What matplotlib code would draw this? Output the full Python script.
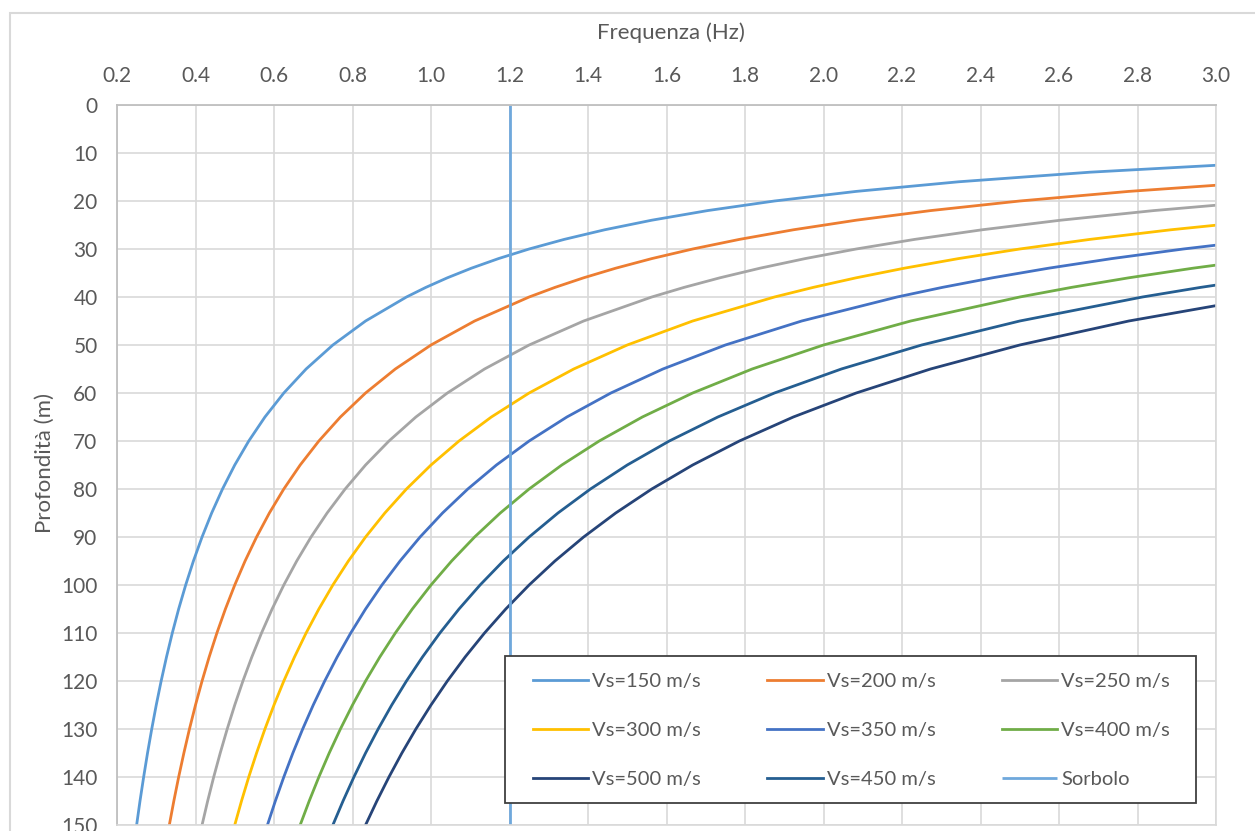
import matplotlib
matplotlib.use("Agg")
import matplotlib.pyplot as plt
from matplotlib.patches import Rectangle

# Depth (m) sampled, and frequency (Hz) read for each Vs curve (each list runs until the curve leaves the 3 Hz edge)
depth = [150, 145, 140, 135, 130, 125, 120, 115, 110, 105, 100, 95, 90, 85, 80, 75, 70, 65, 60, 55, 50, 45, 40,
         38, 36, 34, 32, 30, 28, 26, 24, 22, 20, 18, 16, 14, 12, 10]

f_150 = [0.25, 0.2586, 0.2679, 0.2778, 0.2885, 0.3, 0.3125, 0.3261, 0.3409, 0.3571, 0.375, 0.3947, 0.4167,
         0.4412, 0.4688, 0.5, 0.5357, 0.5769, 0.625, 0.6818, 0.75, 0.8333, 0.9375, 0.9868, 1.0417, 1.1029,
         1.1719, 1.25, 1.3393, 1.4423, 1.5625, 1.7045, 1.875, 2.0833, 2.3438, 2.6786, 3.125]
f_200 = [0.3333, 0.3448, 0.3571, 0.3704, 0.3846, 0.4, 0.4167, 0.4348, 0.4545, 0.4762, 0.5, 0.5263, 0.5556,
         0.5882, 0.625, 0.6667, 0.7143, 0.7692, 0.8333, 0.9091, 1.0, 1.1111, 1.25, 1.3158, 1.3889, 1.4706,
         1.5625, 1.6667, 1.7857, 1.9231, 2.0833, 2.2727, 2.5, 2.7778, 3.125]
f_250 = [0.4167, 0.4310, 0.4464, 0.4630, 0.4808, 0.5, 0.5208, 0.5435, 0.5682, 0.5952, 0.625, 0.6579, 0.6944,
         0.7353, 0.7813, 0.8333, 0.8929, 0.9615, 1.0417, 1.1364, 1.25, 1.3889, 1.5625, 1.6447, 1.7361, 1.8382,
         1.9531, 2.0833, 2.2321, 2.4038, 2.6042, 2.8409, 3.125]
f_300 = [0.5, 0.5172, 0.5357, 0.5556, 0.5769, 0.6, 0.625, 0.6522, 0.6818, 0.7143, 0.75, 0.7895, 0.8333,
         0.8824, 0.9375, 1.0, 1.0714, 1.1538, 1.25, 1.3636, 1.5, 1.6667, 1.875, 1.9737, 2.0833, 2.2059,
         2.3438, 2.5, 2.6786, 2.8846, 3.125]
f_350 = [0.5833, 0.6034, 0.625, 0.6481, 0.6731, 0.7, 0.7292, 0.7609, 0.7955, 0.8333, 0.875, 0.9211, 0.9722,
         1.0294, 1.0938, 1.1667, 1.25, 1.3462, 1.4583, 1.5909, 1.75, 1.9444, 2.1875, 2.3026, 2.4306, 2.5735,
         2.7344, 2.9167, 3.125]
f_400 = [0.6667, 0.6897, 0.7143, 0.7407, 0.7692, 0.8, 0.8333, 0.8696, 0.9091, 0.9524, 1.0, 1.0526, 1.1111,
         1.1765, 1.25, 1.3333, 1.4286, 1.5385, 1.6667, 1.8182, 2.0, 2.2222, 2.5, 2.6316, 2.7778, 2.9412, 3.125]
f_450 = [0.75, 0.7759, 0.8036, 0.8333, 0.8654, 0.9, 0.9375, 0.9783, 1.0227, 1.0714, 1.125, 1.1842, 1.25,
         1.3235, 1.4063, 1.5, 1.6071, 1.7308, 1.875, 2.0455, 2.25, 2.5, 2.8125, 2.9605, 3.125]
f_500 = [0.8333, 0.8621, 0.8929, 0.9259, 0.9615, 1.0, 1.0417, 1.0870, 1.1364, 1.1905, 1.25, 1.3158, 1.3889,
         1.4706, 1.5625, 1.6667, 1.7857, 1.9231, 2.0833, 2.2727, 2.5, 2.7778, 3.125]

sorbolo_f = [1.2, 1.2]
sorbolo_h = [0, 150]

labels = ["Vs=150 m/s", "Vs=200 m/s", "Vs=250 m/s", "Vs=300 m/s", "Vs=350 m/s",
          "Vs=400 m/s", "Vs=500 m/s", "Vs=450 m/s", "Sorbolo"]
colors = {"Vs=150 m/s": "#5B9BD5", "Vs=200 m/s": "#ED7D31", "Vs=250 m/s": "#A5A5A5",
          "Vs=300 m/s": "#FFC000", "Vs=350 m/s": "#4472C4", "Vs=400 m/s": "#70AD47",
          "Vs=500 m/s": "#264478", "Vs=450 m/s": "#255E91", "Sorbolo": "#6FA8DC"}
series = {"Vs=150 m/s": f_150, "Vs=200 m/s": f_200, "Vs=250 m/s": f_250, "Vs=300 m/s": f_300,
          "Vs=350 m/s": f_350, "Vs=400 m/s": f_400, "Vs=500 m/s": f_500, "Vs=450 m/s": f_450}

x_ticks = [0.2, 0.4, 0.6, 0.8, 1.0, 1.2, 1.4, 1.6, 1.8, 2.0, 2.2, 2.4, 2.6, 2.8, 3.0]
y_ticks = list(range(0, 151, 10))

plt.rcParams['font.family'] = ['Lato', 'DejaVu Sans']
FS = 15
TXT = "#595959"

W, H = 1255, 831
fig = plt.figure(figsize=(W / 100, H / 100), dpi=100)
fig.patches.append(Rectangle((10 / W, -0.1), 1.2, 1 - 13 / H + 0.1, transform=fig.transFigure,
                             fill=False, edgecolor="#D9D9D9", linewidth=1.5))
ax = fig.add_axes([117 / W, 1 - 825 / H, (1216 - 117) / W, (825 - 105) / H])

handles = {}
for lab in labels:
    if lab == "Sorbolo":
        h, = ax.plot(sorbolo_f, sorbolo_h, color=colors[lab], lw=2.0, solid_capstyle="butt")
    else:
        f = series[lab]
        h, = ax.plot(f, depth[:len(f)], color=colors[lab], lw=2.0)
    handles[lab] = h

ax.set_xlim(0.2, 3.0)
ax.set_ylim(150, 0)
ax.set_xticks(x_ticks)
ax.set_xticklabels([f"{v:.1f}" for v in x_ticks])
ax.set_yticks(y_ticks)
ax.xaxis.tick_top()
ax.tick_params(axis="both", length=0, labelsize=FS, colors=TXT)
ax.tick_params(axis="x", pad=14)
ax.tick_params(axis="y", pad=14)
ax.grid(True, color="#D9D9D9", lw=1.2)
ax.set_axisbelow(True)
for s in ["left", "top"]:
    ax.spines[s].set_color("#BFBFBF")
    ax.spines[s].set_linewidth(1.3)
for s in ["right", "bottom"]:
    ax.spines[s].set_color("#D9D9D9")
    ax.spines[s].set_linewidth(1.2)

fig.text(671 / W, 1 - 33 / H, "Frequenza (Hz)", fontsize=16, color=TXT, ha="center", va="center")
fig.text(45 / W, 1 - 463 / H, "Profondità (m)", fontsize=16, color=TXT, ha="center", va="center",
         rotation=90)

# legend box
bx0, bx1, by0, by1 = 505, 1196, 656, 803
fig.patches.append(Rectangle((bx0 / W, 1 - by1 / H), (bx1 - bx0) / W, (by1 - by0) / H,
                             transform=fig.transFigure, facecolor="white", edgecolor="#404040",
                             linewidth=1.3, zorder=5))
order = ["Vs=150 m/s", "Vs=300 m/s", "Vs=500 m/s",
         "Vs=200 m/s", "Vs=350 m/s", "Vs=450 m/s",
         "Vs=250 m/s", "Vs=400 m/s", "Sorbolo"]
leg = fig.legend([handles[k] for k in order], order, ncol=3, loc="center",
                 bbox_to_anchor=((bx0 + bx1) / 2 / W + 1 / W, 1 - (by0 + by1 + 2) / 2 / H),
                 frameon=False, fontsize=14.5, labelcolor=TXT,
                 handlelength=2.75, handletextpad=0.2, columnspacing=3.3, labelspacing=1.6,
                 borderpad=0, borderaxespad=0)
leg.set_zorder(6)

fig.savefig("out.png", dpi=100)
